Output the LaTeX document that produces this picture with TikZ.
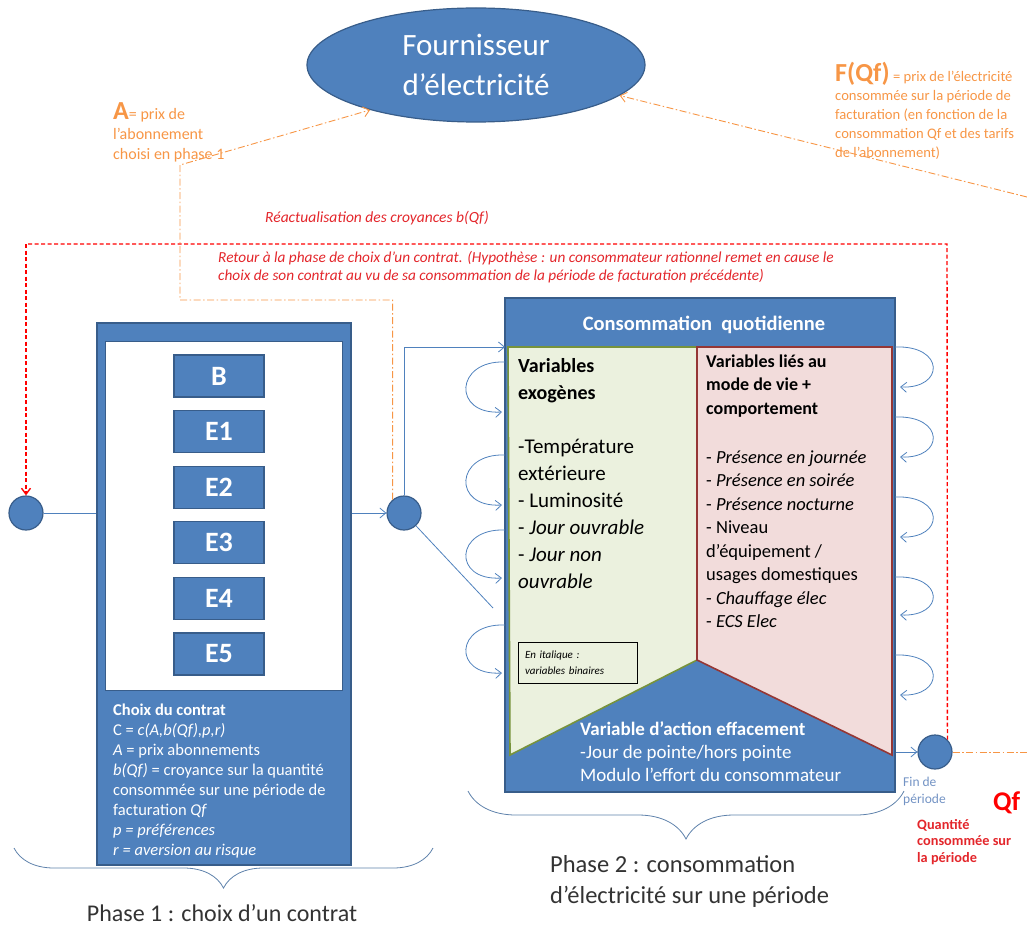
\documentclass[tikz,border=0pt]{standalone}
\usepackage{fontspec}
\setmainfont{Carlito}
\usepackage{tikz}
\usetikzlibrary{arrows.meta, shapes.geometric, decorations.pathreplacing}

\definecolor{ofblue}{HTML}{4F81BD}
\definecolor{ofblueD}{HTML}{385D8A}
\definecolor{ofgreen}{HTML}{EBF1DE}
\definecolor{ofgreenD}{HTML}{77933C}
\definecolor{ofred}{HTML}{F2DCDB}
\definecolor{ofredD}{HTML}{953735}
\definecolor{oforange}{HTML}{F79646}
\definecolor{ofredtxt}{HTML}{E3262B}
\definecolor{offin}{HTML}{7393C4}
\definecolor{retourred}{HTML}{FF0000}

\newcommand{\fs}[2]{\fontsize{#1}{#2}\selectfont}

\begin{document}
\begin{tikzpicture}[x=1pt, y=-1pt,
  blk/.style={draw=ofblueD, fill=ofblue, line width=1.2pt},
  ebox/.style={blk, minimum width=90, minimum height=42, inner sep=0pt,
               text=white, font=\fs{28}{30}\bfseries},
  etape/.style={circle, blk, minimum size=34, inner sep=0pt},
  txt/.style={inner sep=0pt, anchor=west, align=left},
  conn/.style={ofblue, line width=0.8pt},
  arr/.style={conn, -{Straight Barb[length=6pt, width=10pt]}},
  reddash/.style={retourred, line width=1.4pt, dash pattern=on 4pt off 2.5pt},
  orgdash/.style={oforange, line width=0.9pt, dash pattern=on 7pt off 2.5pt on 1.5pt off 2.5pt},
  brc/.style={decorate, decoration={brace, mirror, amplitude=#1}, ofblue!70!gray, line width=0.8pt}
]
\useasboundingbox (0,0) rectangle (1027,928);

% fournisseur
\node[ellipse, blk, minimum width=338, minimum height=114, text=white, align=center,
      font=\fs{31}{40}] (fourn) at (476,65) {Fournisseur\\d'électricité};
\node[txt, text=oforange, font=\fs{16}{20}] (alab) at (113,132)
  {{\fs{26}{20}\bfseries A}= prix de\\l'abonnement\\choisi en phase 1};
\node[txt, text=oforange, font=\fs{14.6}{19}] (flab) at (835,111)
  {{\fs{26}{19}\bfseries F(Qf)} = prix de l'électricité\\consommée sur la période de\\facturation (en fonction de la\\consommation Qf et des tarifs\\de l'abonnement)};

% textes de retour
\node[txt, text=ofredtxt, font=\fs{15.5}{18}\itshape] (reac) at (265,218)
  {Réactualisation des croyances b(Qf)};
\node[txt, text=ofredtxt, font=\fs{15.3}{18}\itshape] (retour) at (218,267)
  {Retour à la phase de choix d'un contrat. (Hypothèse : un consommateur rationnel remet en cause le\\choix de son contrat au vu de sa consommation de la période de facturation précédente)};

% phase 1
\node[blk, minimum width=254, minimum height=542, inner sep=0pt] (contrat) at (224,594) {};
\node[draw=ofblueD, fill=white, line width=1pt, minimum width=237, minimum height=349,
      inner sep=0pt] (offres) at (223.5,515.5) {};
\foreach \lab [count=\i from 0] in {B,E1,E2,E3,E4,E5}
  \node[ebox] (e\i) at (219,{376+55.6*\i}) {\lab};
\node[txt, text=white, font=\fs{16.5}{19.9}] (choixtxt) at (113,781)
  {\textbf{Choix du contrat}\\C = \textit{c(A,b(Qf),p,r)}\\\textit{A} = prix abonnements\\\textit{b(Qf)} = croyance sur la quantité\\consommée sur une période de\\facturation \textit{Qf}\\\textit{p = préférences}\\\textit{r = aversion au risque}};

% phase 2
\node[blk, minimum width=390, minimum height=494, inner sep=0pt] (conso) at (700,545) {};
\node[text=white, font=\fs{20.5}{22}\bfseries] (titre) at (704,325) {Consommation\ \ quotidienne};
\draw[ofgreenD, fill=ofgreen, line width=1.6pt] (508,347) -- (697,347) -- (697,660) -- (510,755) -- cycle;
\draw[ofredD, fill=ofred, line width=1.6pt] (697,347) -- (892,347) -- (892,755) -- (697,660) -- cycle;
\node[txt, font=\fs{20}{27}\bfseries] (vexo) at (518,381) {Variables\\exogènes};
\node[txt, font=\fs{21}{27}] (lexo) at (518,514)
  {-Température\\extérieure\\- Luminosité\\- \textit{Jour ouvrable}\\- \textit{Jour non}\\\textit{ouvrable}};
\node[txt, font=\fs{18}{23.5}\bfseries] (vmode) at (706,386) {Variables liés au\\mode de vie +\\comportement};
\node[txt, font=\fs{18.5}{23.5}] (lmode) at (706,539)
  {- \textit{Présence en journée}\\- \textit{Présence en soirée}\\- \textit{Présence nocturne}\\- Niveau\\d'équipement /\\usages domestiques\\- \textit{Chauffage élec}\\- \textit{ECS Elec}};
\node[draw=black, fill=ofgreen, line width=0.6pt, minimum width=119, minimum height=41,
      inner sep=0pt, text width=105, align=left, font=\fs{11}{16}\itshape] (note) at (577.5,662.5)
  {En italique :\\variables binaires};
\node[txt, text=white, font=\fs{19}{23}] (effac) at (580,752)
  {\textbf{Variable d'action effacement}\\-Jour de pointe/hors pointe\\Modulo l'effort du consommateur};

% etapes
\node[etape] (debut) at (26,513) {};
\node[etape] (choix) at (404,513) {};
\node[etape] (fin) at (935,752) {};

\coordinate (gnw) at (505,347);
\coordinate (diag) at (493,608);
\coordinate (acoin) at (180,165);
\coordinate (abend) at (180,300);
\coordinate (rhaut) at (947,244);
\coordinate (fqf) at (1027,197);
\coordinate (qfout) at (1027,752);

\draw[conn] (debut) -- (debut -| contrat.west);
\draw[arr] (choix -| contrat.east) -- (choix);
\draw[arr] (choix.north) |- (gnw);
\draw[conn] (choix) -- (diag);
\draw[arr] (fin -| conso.east) -- (fin);

\foreach \ya/\yb in {362/412, 455/505, 530/578, 625/673}
  \draw[arr] (505,\ya) .. controls (455,{\ya-2}) and (452,{\yb+3}) .. (502,\yb);
\foreach \ya/\yb in {347/387, 417/457, 497/537, 577/615, 655/695}
  \draw[arr] (895,\ya) .. controls (945,{\ya-2}) and (945,{\yb+2}) .. (900,\yb);

\draw[reddash] (fin.45) -- (rhaut) -- (rhaut -| debut);
\draw[reddash, -{Straight Barb[length=6pt, width=9pt]}] (rhaut -| debut) -- (debut.north);
\draw[orgdash, -{Straight Barb[length=6pt, width=10pt]}] (choix.130) |- (abend) -- (acoin) -- (fourn.203);
\draw[orgdash, -{Straight Barb[length=6pt, width=10pt]}] (fqf) -- (fourn.348);
\draw[orgdash] (fin.east) -- (qfout);

% accolades
\draw[brc=40] (14,848) -- (433,848);
\draw[brc=48] (468,791) -- (904,791);
\node[font=\fs{24}{26}, text=black!80] (phase1) at (222,913) {Phase 1 : choix d'un contrat};
\node[txt, font=\fs{24.5}{31}, text=black!80] (phase2) at (550,881.5)
  {Phase 2 : consommation\\d'électricité sur une période};
\node[txt, font=\fs{13.5}{17}, text=offin] (finlab) at (903,791) {Fin de\\période};
\node[txt, font=\fs{27}{28}\bfseries, text=red] (qf) at (993,803) {Qf};
\node[txt, font=\fs{14.3}{16.5}\bfseries, text=ofredtxt] (qlab) at (917,842) {Quantité\\consommée sur\\la période};
\end{tikzpicture}
\end{document}
